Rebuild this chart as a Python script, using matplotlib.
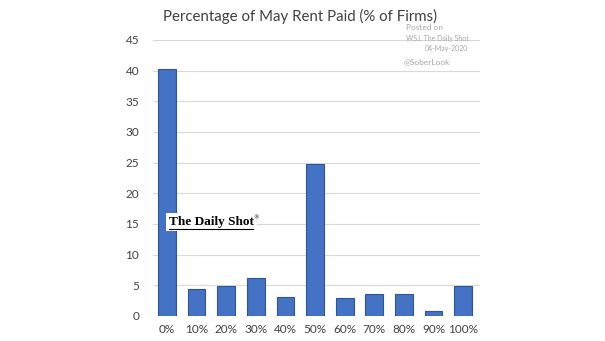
import matplotlib.pyplot as plt
from matplotlib.lines import Line2D

categories = ["0%", "10%", "20%", "30%", "40%", "50%", "60%", "70%", "80%", "90%", "100%"]
values = [40.3, 4.4, 4.9, 6.2, 3.1, 24.8, 2.9, 3.6, 3.6, 0.8, 4.9]
yticks = [0, 5, 10, 15, 20, 25, 30, 35, 40, 45]

plt.rcParams['font.family'] = ['Lato', 'DejaVu Sans']

fig = plt.figure(figsize=(6.05, 3.41), dpi=100)
ax = fig.add_axes([153 / 605, 25 / 341, 327 / 605, 276 / 341])

x = range(len(categories))
ax.bar(x, values, width=0.6, color="#4472C4", edgecolor="#2F5597", linewidth=0.8, zorder=3)

ax.set_xlim(-0.47, 10.57)
ax.set_ylim(0, 45)
ax.set_yticks(yticks)
ax.set_xticks(list(x))
ax.set_xticklabels(categories)
ax.tick_params(axis="both", length=0, colors="#404040", labelsize=8.5)
ax.tick_params(axis="y", pad=10)
ax.tick_params(axis="x", pad=6)
ax.grid(axis="y", color="#D9D9D9", linewidth=0.8, zorder=0)
for s in ax.spines.values():
    s.set_visible(False)

fig.text(300 / 605, 1 - 16 / 341, "Percentage of May Rent Paid (% of Firms)", ha="center", va="center",
         fontsize=10.8, color="#404040")

# watermark notes
fig.text(406 / 605, 1 - 28 / 341, "Posted on", fontsize=6, color="#A6A6A6", va="center")
fig.text(406 / 605, 1 - 38 / 341, "WSJ, The Daily Shot", fontsize=5, color="#A6A6A6", va="center")
fig.text(425 / 605, 1 - 49 / 341, "04-May-2020", fontsize=5, color="#A6A6A6", va="center")
fig.text(404 / 605, 1 - 62 / 341, "@SoberLook", fontsize=6, color="#A6A6A6", va="center")

fig.text(169 / 605, 1 - 222 / 341, "The Daily Shot", family="Liberation Serif", fontsize=9.5,
         fontweight="bold", color="black", va="center",
         bbox=dict(facecolor="white", edgecolor="none", pad=2))
fig.add_artist(Line2D([169 / 605, 253 / 605], [1 - 229 / 341, 1 - 229 / 341],
                      color="black", linewidth=0.8, zorder=10))
fig.text(253 / 605, 1 - 218 / 341, "\u00ae", family="DejaVu Sans", fontsize=4, color="black",
         va="center", zorder=10)

fig.savefig("out.png", dpi=100, facecolor="white")
